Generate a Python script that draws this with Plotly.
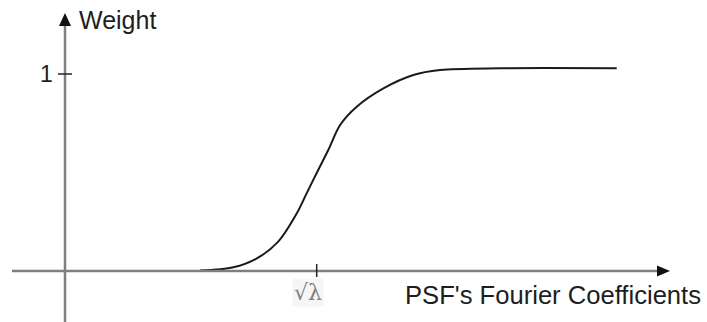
import plotly.graph_objects as go

# ---- data (x in units of sqrt(lambda), y = weight) ----
coef = [0.536, 0.669, 0.762, 0.847, 0.921, 0.960, 1.006, 1.046, 1.093, 1.159,
        1.265, 1.384, 1.490, 1.728, 2.192]
weight = [0.002, 0.019, 0.064, 0.149, 0.293, 0.394, 0.513, 0.614, 0.741, 0.834,
          0.927, 0.995, 1.020, 1.029, 1.029]
x_ticks = [1.0]
x_tick_labels = ["√λ"]
y_ticks = [1.0]
y_tick_labels = ["1"]

W, H = 707, 322
# pixel geometry of the drawing
OX, OY = 65.0, 271.0       # origin in pixels
UX, UY = 251.7, 197.0      # pixels per unit

def px(xp):
    return (xp - OX) / UX

def py(yp):
    return (OY - yp) / UY

xr = [px(0), px(W)]
yr = [py(H), py(0)]

AX = "#7f7f7f"
TXT = "#1e1e1e"
FONT = "Liberation Sans, Arial, Helvetica, sans-serif"

fig = go.Figure()
fig.add_trace(go.Scatter(x=coef, y=weight, mode="lines",
                         line=dict(color="#1a1a1a", width=2, shape="spline", smoothing=0.9),
                         hoverinfo="skip", showlegend=False))

shapes = []
# horizontal axis
shapes.append(dict(type="line", x0=px(12), x1=px(660), y0=0, y1=0,
                   line=dict(color=AX, width=2.5)))
# vertical axis
shapes.append(dict(type="line", x0=0, x1=0, y0=py(H), y1=py(24),
                   line=dict(color=AX, width=2.5)))
# arrow heads
shapes.append(dict(type="path",
                   path=f"M {px(657)} {py(265.5)} L {px(670)} 0 L {px(657)} {py(276.5)} Z",
                   fillcolor="#111111", line=dict(width=0)))
shapes.append(dict(type="path",
                   path=f"M {px(59)} {py(26)} L 0 {py(13)} L {px(71)} {py(26)} Z",
                   fillcolor="#111111", line=dict(width=0)))
# ticks
for t in y_ticks:
    shapes.append(dict(type="line", x0=px(58), x1=px(72), y0=t, y1=t,
                       line=dict(color="#222222", width=1.5)))
for t in x_ticks:
    shapes.append(dict(type="line", x0=t, x1=t, y0=py(264), y1=py(277),
                       line=dict(color="#222222", width=1.5)))

annotations = []
for t, lab in zip(y_ticks, y_tick_labels):
    annotations.append(dict(x=px(55), y=t, text=lab, showarrow=False,
                            xanchor="right", yanchor="middle",
                            font=dict(family=FONT, size=23, color=TXT)))
for t, lab in zip(x_ticks, x_tick_labels):
    annotations.append(dict(x=t - 9 / UX, y=py(292), text=lab, showarrow=False,
                            xanchor="center", yanchor="middle", bgcolor="#f6f6f6",
                            font=dict(family="DejaVu Serif, serif", size=22, color="#808080")))
annotations.append(dict(x=px(77), y=py(20), text="Weight", showarrow=False,
                        xanchor="left", yanchor="middle",
                        font=dict(family=FONT, size=25, color=TXT)))
annotations.append(dict(x=px(403), y=py(295), text="PSF's Fourier Coefficients", showarrow=False,
                        xanchor="left", yanchor="middle",
                        font=dict(family=FONT, size=25.6, color=TXT)))

fig.update_layout(
    width=W, height=H,
    margin=dict(l=0, r=0, t=0, b=0),
    paper_bgcolor="white", plot_bgcolor="white",
    xaxis=dict(range=xr, visible=False, fixedrange=True),
    yaxis=dict(range=yr, visible=False, fixedrange=True),
    shapes=shapes, annotations=annotations,
)
fig.write_html("out.html")
